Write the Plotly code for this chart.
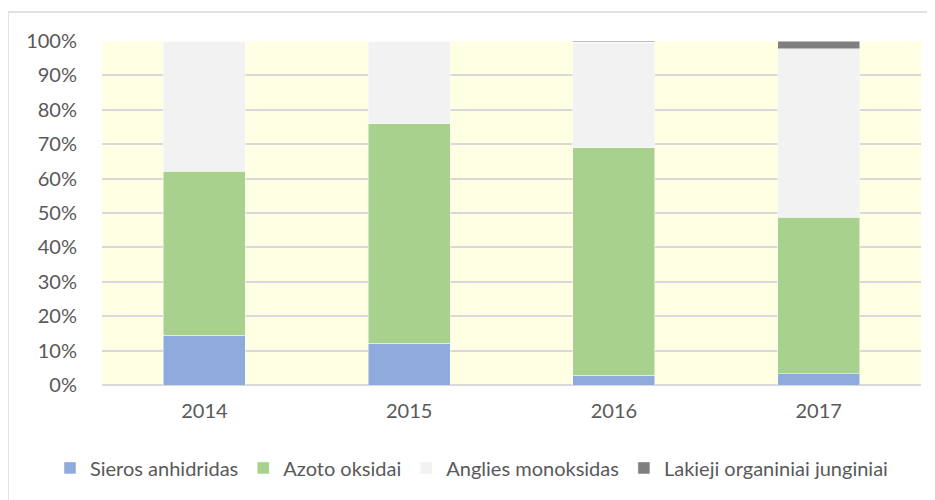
import plotly.graph_objects as go

years = ["2014", "2015", "2016", "2017"]
sieros = [14.5, 12.2, 2.9, 3.2]
azoto = [47.7, 63.7, 66.0, 45.6]
anglies = [37.8, 24.1, 30.8, 48.9]
lakieji = [0.0, 0.0, 0.3, 2.3]

series = [
    ("Sieros anhidridas", sieros, "#8FAADC"),
    ("Azoto oksidai", azoto, "#A9D18E"),
    ("Anglies monoksidas", anglies, "#F2F2F2"),
    ("Lakieji organiniai junginiai", lakieji, "#7F7F7F"),
]

fig = go.Figure()
for name, vals, col in series:
    fig.add_trace(go.Bar(
        x=years, y=vals, name=name, marker_color=col,
        marker_line_width=0.6, marker_line_color="rgba(255,255,255,0.8)",
        width=0.4,
    ))

tickfont = dict(family="Lato, Open Sans, sans-serif", size=20, color="#595959")
fig.update_layout(
    barmode="stack", barnorm="percent",
    width=935, height=500,
    margin=dict(l=94, r=22, t=33, b=123, autoexpand=False),
    paper_bgcolor="white", plot_bgcolor="#FFFFE3",
    font=tickfont,
    showlegend=True,
    legend=dict(orientation="h", x=-0.0635, xanchor="left", y=-0.241, yanchor="middle",
                font=dict(family="Lato, Open Sans, sans-serif", size=20, color="#595959"),
                itemwidth=30, traceorder="normal", tracegroupgap=0),
    xaxis=dict(showgrid=False, ticks="", ticklabelstandoff=12, tickfont=tickfont),
    yaxis=dict(range=[0, 100], dtick=10, ticksuffix="%", showgrid=True, gridcolor="#D9D9D9",
               gridwidth=1.5, zeroline=True, zerolinecolor="#D9D9D9", zerolinewidth=1.5,
               ticklabelstandoff=24, tickfont=tickfont),
    bargap=0.6,
)
fig.add_shape(type="line", xref="paper", yref="paper", x0=-0.1148, x1=1.05, y0=1.0843, y1=1.0843,
              line=dict(color="#D9D9D9", width=1.5))
fig.add_shape(type="line", xref="paper", yref="paper", x0=-0.1148, x1=-0.1148, y0=-0.4, y1=1.0843,
              line=dict(color="#D9D9D9", width=1.5))
fig.write_html("out.html")
